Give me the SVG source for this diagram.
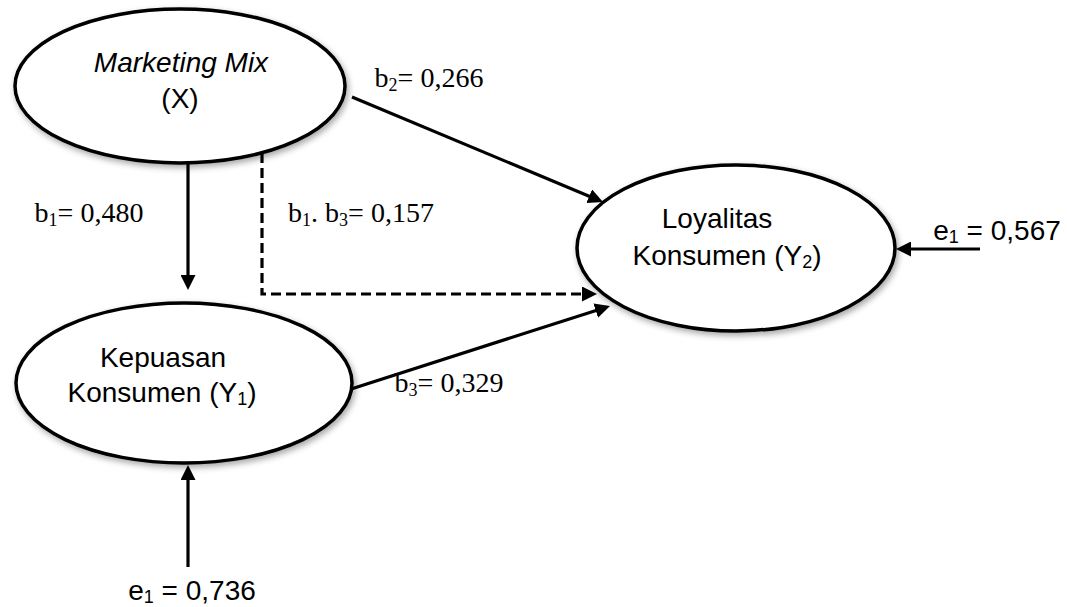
<svg xmlns="http://www.w3.org/2000/svg" width="1067" height="607" viewBox="0 0 1067 607">
<style>
.node{fill:#fff;stroke:#000;stroke-width:3.5;filter:url(#sh)}
.lbl{font-family:"Liberation Sans",Arial,sans-serif;font-size:28px;fill:#000;text-anchor:middle}
.coef{font-family:"Liberation Serif","Times New Roman",serif;font-size:28px;fill:#000;text-anchor:middle}
.sub{font-size:18px}
.edge{fill:none;stroke:#000;stroke-width:3.2}
.dash{stroke-dasharray:10 5}
</style>
<defs>
<filter id="sh" x="-10%" y="-10%" width="125%" height="130%">
<feDropShadow dx="2" dy="3" stdDeviation="3" flood-color="#000" flood-opacity="0.35"/>
</filter>
<marker id="arr" viewBox="0 0 15 15" markerWidth="15" markerHeight="15" refX="11" refY="7.5" orient="auto" markerUnits="userSpaceOnUse">
<path d="M0,0 L15,7.5 L0,15 Z" fill="#000"/>
</marker>
</defs>
<g id="connectors">
<path class="edge" d="M188,163 V286" marker-end="url(#arr)"/>
<path class="edge dash" d="M262,153 V294 H593" marker-end="url(#arr)"/>
<path class="edge" d="M352,97 L599.3,200.5" marker-end="url(#arr)"/>
<path class="edge" d="M348,390 L606.2,307.2" marker-end="url(#arr)"/>
<path class="edge" d="M188,567 V469" marker-end="url(#arr)"/>
<path class="edge" d="M980,249 H900" marker-end="url(#arr)"/>
</g>
<g id="node-x">
<ellipse class="node" cx="180" cy="86" rx="165" ry="77"/>
<text class="lbl" x="181" y="72" font-style="italic">Marketing Mix</text>
<text class="lbl" x="180" y="108">(X)</text>
</g>
<g id="node-y1">
<ellipse class="node" cx="184" cy="383" rx="168" ry="80"/>
<text class="lbl" x="163" y="367">Kepuasan</text>
<text class="lbl" x="162" y="402">Konsumen (Y<tspan class="sub" dy="3">1</tspan><tspan dy="-3">)</tspan></text>
</g>
<g id="node-y2">
<ellipse class="node" cx="736" cy="248" rx="159" ry="83"/>
<text class="lbl" x="717" y="228">Loyalitas</text>
<text class="lbl" x="727" y="265">Konsumen (Y<tspan class="sub" dy="3">2</tspan><tspan dy="-3">)</tspan></text>
</g>
<g id="labels">
<text class="coef" x="429" y="87">b<tspan class="sub" dy="4">2</tspan><tspan dy="-4">= 0,266</tspan></text>
<text class="coef" x="89" y="222">b<tspan class="sub" dy="4">1</tspan><tspan dy="-4">= 0,480</tspan></text>
<text class="coef" x="361" y="222">b<tspan class="sub" dy="4">1</tspan><tspan dy="-4">. b</tspan><tspan class="sub" dy="4">3</tspan><tspan dy="-4">= 0,157</tspan></text>
<text class="coef" x="449" y="392">b<tspan class="sub" dy="4">3</tspan><tspan dy="-4">= 0,329</tspan></text>
<text class="lbl" x="997" y="240">e<tspan class="sub" dy="3">1</tspan><tspan dy="-3"> = 0,567</tspan></text>
<text class="lbl" x="192" y="600">e<tspan class="sub" dy="3">1</tspan><tspan dy="-3"> = 0,736</tspan></text>
</g>
</svg>
